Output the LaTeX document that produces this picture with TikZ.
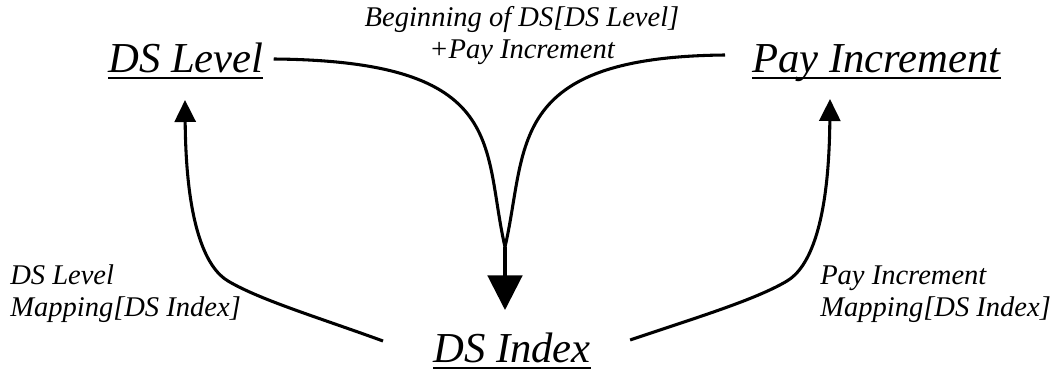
\documentclass[tikz,border=0pt]{standalone}
\usepackage{fontspec}
\setmainfont{Liberation Serif}
\usetikzlibrary{arrows.meta,calc}

% word with a fixed-position underline (independent of descenders)
\newcommand\ulword[1]{\setbox0\hbox{#1}\rlap{\rule[-5.6pt]{\wd0}{2pt}}\box0}

\begin{document}
\begin{tikzpicture}[
    x=0.75pt, y=-0.75pt,
    title/.style={inner sep=0pt, font=\fontsize{32}{38}\selectfont\itshape},
    lbl/.style={inner sep=0pt, font=\fontsize{21.4}{23.4}\selectfont\itshape},
    conn/.style={line width=2.3pt, black},
    smalltip/.style={-{Triangle[length=16.5pt,width=15.75pt]}},
    bigtip/.style={-{Triangle[length=26pt,width=26pt]}}
  ]
  \useasboundingbox[fill=white] (0,0) rectangle (1061,375);

  % the three quantities
  \node[title, anchor=base west] (dsl) at (108,72) {\ulword{DS Level}};
  \node[title, anchor=base west] (pay) at (752,72) {\ulword{Pay Increment}};
  \node[title, anchor=base west] (dsi) at (433,362) {\ulword{DS Index}};

  % relation labels (base anchor sits on the last line)
  \node[lbl, align=center, anchor=base] (lblsum) at (522,58)
    {Beginning of DS[DS Level]\\+Pay Increment};
  \node[lbl, align=left, anchor=base west] (lblleft) at (10,316)
    {DS Level\\Mapping[DS Index]};
  \node[lbl, align=left, anchor=base west] (lblright) at (820,316)
    {Pay Increment\\Mapping[DS Index]};

  % where the two upper curves join, and the head of the joint arrow
  \coordinate (merge) at (505,247);
  \coordinate (sumtip) at (505,310);

  % DS Level + Pay Increment -> DS Index
  \draw[conn] ($(dsl.base east)+(10,-13)$)
    .. controls (510,61) and (482,147) .. (merge);
  \draw[conn] ($(pay.base west)+(-27,-17)$)
    .. controls (505,57) and (528,147) .. (merge);
  \draw[conn, bigtip] (merge) -- (sumtip);

  % DS Index -> DS Level / Pay Increment mappings
  \draw[conn, smalltip] ($(dsi.base west)+(-50,-21)$)
    .. controls (320,318) and (260,300) .. (228,281)
    .. controls (206,268) and (186,225) .. ($(dsl.base west)+(77,28)$);
  \draw[conn, smalltip] ($(dsi.base east)+(39,-22)$)
    .. controls (695,318) and (755,300) .. (787,281)
    .. controls (809,268) and (829,225) .. ($(pay.base west)+(78,27)$);
\end{tikzpicture}
\end{document}
